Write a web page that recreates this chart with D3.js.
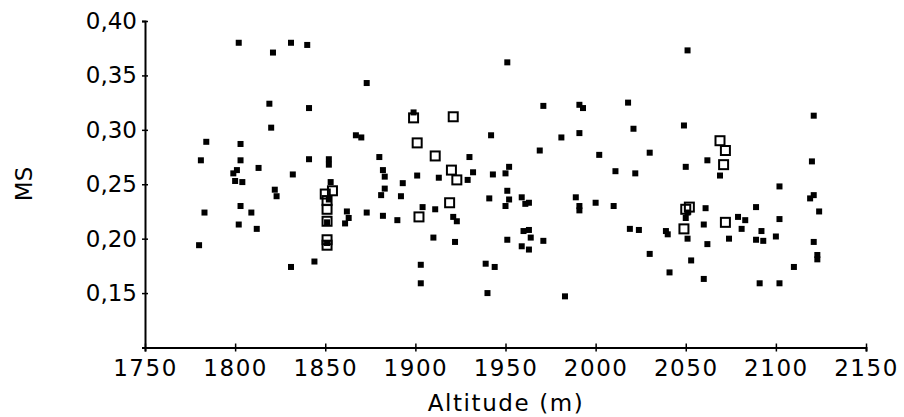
<!DOCTYPE html>
<html>
<head>
<meta charset="utf-8">
<script src="https://cdn.jsdelivr.net/npm/d3@7.9.0/dist/d3.min.js"></script>
<style>
  body { margin: 0; background: #fff; }
  svg text { font-family: "DejaVu Sans", sans-serif; fill: #000; }
</style>
</head>
<body>
<svg id="chart" width="904" height="417"></svg>
<script>
// filled squares: altitude (m) and MS
const filledAlt = [1802,1831,1840,1821,1873,1819,1841,1820,1784,1803,1867,1870,1781,1803,1841,1852,1852,1880,1882,1883,
  1799,1801,1813,1832,1800,1804,1853,1822,1823,1803,1809,1783,1802,1812,1780,1844,1831,1862,1863,1861,
  1873,1882,1890,1892,1883,1881,1893,1899,1852,1851,1851,1951,1971,1991,1993,2018,1942,1981,1991,1969,
  1930,2002,2011,1901,1943,1952,1950,1913,1932,1929,1951,1941,1959,1963,1961,1952,1950,1989,1991,1991,
  2000,2010,1904,1911,1921,1923,1960,1963,1964,1971,1951,1959,1963,1910,1922,2019,2024,1903,1939,1944,
  1903,1940,1983,2051,2121,2021,2049,2030,2062,2120,2022,2050,2069,2102,2121,2119,2124,2102,2089,2050,
  2051,2061,2060,2079,2083,2081,2051,2039,2040,2062,2074,2092,2089,2093,2100,2121,2123,2123,2110,2030,
  2053,2041,2060,2091,2102];
const filledMS = [0.380,0.380,0.378,0.371,0.343,0.324,0.320,0.302,0.289,0.287,0.295,0.293,0.272,0.272,0.273,0.273,0.268,0.275,0.263,0.257,
  0.260,0.263,0.265,0.259,0.253,0.252,0.252,0.245,0.239,0.230,0.224,0.224,0.213,0.209,0.194,0.179,0.174,0.225,0.219,0.214,
  0.224,0.221,0.217,0.239,0.246,0.240,0.251,0.316,0.236,0.215,0.196,0.362,0.322,0.323,0.320,0.325,0.295,0.293,0.297,0.281,
  0.275,0.277,0.262,0.258,0.259,0.266,0.260,0.256,0.261,0.254,0.244,0.237,0.238,0.233,0.232,0.236,0.230,0.238,0.230,0.226,
  0.233,0.230,0.229,0.227,0.220,0.216,0.207,0.208,0.201,0.198,0.199,0.193,0.190,0.201,0.197,0.209,0.208,0.176,0.177,0.174,
  0.159,0.150,0.147,0.373,0.313,0.301,0.304,0.279,0.272,0.271,0.260,0.266,0.258,0.248,0.240,0.237,0.225,0.218,0.229,0.219,
  0.224,0.228,0.213,0.220,0.217,0.209,0.200,0.207,0.204,0.195,0.200,0.207,0.199,0.198,0.202,0.197,0.185,0.181,0.174,0.186,
  0.180,0.169,0.163,0.159,0.159];

// open squares
const openAlt = [1850,1854,1851,1851,1851,1851,1851,1899,1921,1901,1911,1920,1923,1919,1902,2069,2072,2071,2050,2052,2072,2049];
const openMS = [0.241,0.244,0.235,0.227,0.216,0.199,0.194,0.311,0.312,0.288,0.276,0.263,0.254,0.233,0.220,0.290,0.281,0.268,0.227,0.229,0.215,0.209];

const xTicks = [1750,1800,1850,1900,1950,2000,2050,2100,2150];
const yTicks = [0.15,0.20,0.25,0.30,0.35,0.40];

const svg = d3.select('#chart');

const x = d3.scaleLinear().domain([1750, 2150]).range([145, 866]);
const y = d3.scaleLinear().domain([0.10, 0.40]).range([347.5, 21]);

// y axis
const yAxis = svg.append('g')
  .attr('transform', 'translate(145,0)')
  .call(d3.axisLeft(y).tickValues(yTicks).tickSizeOuter(0).tickSize(3)
    .tickPadding(8)
    .tickFormat(d => d3.format('.2f')(d).replace('.', ',')));
yAxis.select('.domain').attr('stroke-width', 2);
yAxis.selectAll('.tick line').attr('x1', -3).attr('x2', 3).attr('stroke-width', 1.5);
yAxis.selectAll('.tick text').attr('font-size', 23).attr('x', -8)
  .attr('font-family', '"DejaVu Sans", sans-serif').attr('fill', '#000');

// x axis
const xAxis = svg.append('g')
  .attr('transform', 'translate(0,347.5)')
  .call(d3.axisBottom(x).tickValues(xTicks).tickSizeOuter(0).tickSize(4)
    .tickFormat(d3.format('d')));
xAxis.select('.domain').attr('stroke-width', 2);
xAxis.selectAll('.tick line').attr('y1', -4).attr('y2', 4).attr('stroke-width', 1.5);
xAxis.selectAll('.tick text').attr('font-size', 23).attr('y', 12)
  .attr('font-family', '"DejaVu Sans", sans-serif').attr('fill', '#000')
  .style('letter-spacing', '1.5px');

// axis titles
svg.append('text')
  .attr('x', 506).attr('y', 411)
  .attr('text-anchor', 'middle')
  .attr('font-size', 23)
  .style('letter-spacing', '1.6px')
  .text('Altitude (m)');

// rotated so that it reads bottom to top
svg.append('text')
  .attr('x', -184).attr('y', 32)
  .attr('transform', 'rotate(-90)')
  .attr('text-anchor', 'middle')
  .attr('font-size', 23)
  .text('MS');

// filled points
const filled = filledAlt.map((a, i) => ({ alt: a, ms: filledMS[i] }));
const open = openAlt.map((a, i) => ({ alt: a, ms: openMS[i] }));

svg.append('g')
  .selectAll('rect')
  .data(filled)
  .join('rect')
  .attr('x', d => x(d.alt) - 3)
  .attr('y', d => y(d.ms) - 3)
  .attr('width', 6)
  .attr('height', 6)
  .attr('fill', '#000');

svg.append('g')
  .selectAll('rect')
  .data(open)
  .join('rect')
  .attr('x', d => x(d.alt) - 4.5)
  .attr('y', d => y(d.ms) - 4.5)
  .attr('width', 9)
  .attr('height', 9)
  .attr('fill', 'none')
  .attr('stroke', '#000')
  .attr('stroke-width', 2);
</script>
</body>
</html>
